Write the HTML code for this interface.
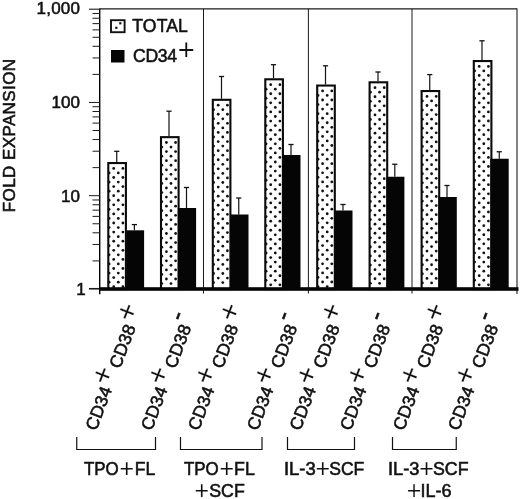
<!DOCTYPE html>
<html><head><meta charset="utf-8"><title>Fold expansion</title>
<style>html,body{margin:0;padding:0;background:#fff}svg{display:block}text{font-family:"Liberation Sans",Arial,Helvetica,sans-serif;fill:#111}.b{stroke:#111;stroke-width:.55px}.m{stroke:#111;stroke-width:.55px}.p{stroke:#fff;stroke-width:.15px;paint-order:fill stroke}</style></head><body>
<svg width="520" height="499" viewBox="0 0 520 499">
<rect width="520" height="499" fill="#fff"/>
<g stroke="#1a1a1a" fill="none">
<line x1="100" y1="8.9" x2="517" y2="8.9" stroke-width="1.1"/>
<line x1="517" y1="8.5" x2="517" y2="294" stroke-width="1.1"/>
<line x1="203.5" y1="9" x2="203.5" y2="293.5" stroke-width="1"/>
<line x1="308.4" y1="9" x2="308.4" y2="293.5" stroke-width="1"/>
<line x1="412" y1="9" x2="412" y2="293.5" stroke-width="1"/>
<line x1="99.7" y1="8.4" x2="99.7" y2="294.2" stroke="#000" stroke-width="1.4"/>
<line x1="89" y1="288.95" x2="100" y2="288.95" stroke-width="1"/>
<line x1="92.5" y1="260.88" x2="100" y2="260.88" stroke-width="1"/>
<line x1="92.5" y1="244.46" x2="100" y2="244.46" stroke-width="1"/>
<line x1="92.5" y1="232.81" x2="100" y2="232.81" stroke-width="1"/>
<line x1="92.5" y1="223.77" x2="100" y2="223.77" stroke-width="1"/>
<line x1="92.5" y1="216.39" x2="100" y2="216.39" stroke-width="1"/>
<line x1="92.5" y1="210.14" x2="100" y2="210.14" stroke-width="1"/>
<line x1="92.5" y1="204.74" x2="100" y2="204.74" stroke-width="1"/>
<line x1="92.5" y1="199.97" x2="100" y2="199.97" stroke-width="1"/>
<line x1="89" y1="195.70" x2="100" y2="195.70" stroke-width="1"/>
<line x1="92.5" y1="167.63" x2="100" y2="167.63" stroke-width="1"/>
<line x1="92.5" y1="151.21" x2="100" y2="151.21" stroke-width="1"/>
<line x1="92.5" y1="139.56" x2="100" y2="139.56" stroke-width="1"/>
<line x1="92.5" y1="130.52" x2="100" y2="130.52" stroke-width="1"/>
<line x1="92.5" y1="123.14" x2="100" y2="123.14" stroke-width="1"/>
<line x1="92.5" y1="116.89" x2="100" y2="116.89" stroke-width="1"/>
<line x1="92.5" y1="111.49" x2="100" y2="111.49" stroke-width="1"/>
<line x1="92.5" y1="106.72" x2="100" y2="106.72" stroke-width="1"/>
<line x1="89" y1="102.45" x2="100" y2="102.45" stroke-width="1"/>
<line x1="92.5" y1="74.38" x2="100" y2="74.38" stroke-width="1"/>
<line x1="92.5" y1="57.96" x2="100" y2="57.96" stroke-width="1"/>
<line x1="92.5" y1="46.31" x2="100" y2="46.31" stroke-width="1"/>
<line x1="92.5" y1="37.27" x2="100" y2="37.27" stroke-width="1"/>
<line x1="92.5" y1="29.89" x2="100" y2="29.89" stroke-width="1"/>
<line x1="92.5" y1="23.64" x2="100" y2="23.64" stroke-width="1"/>
<line x1="92.5" y1="18.24" x2="100" y2="18.24" stroke-width="1"/>
<line x1="92.5" y1="13.47" x2="100" y2="13.47" stroke-width="1"/>
<line x1="89" y1="9.20" x2="100" y2="9.20" stroke-width="1.1"/>
<line x1="89" y1="288.6" x2="100" y2="288.6" stroke-width="1.3"/>
</g>
<g>
<rect x="108.30" y="163.05" width="17.60" height="126.00" fill="#fff" stroke="#0a0a0a" stroke-width="2.1"/>
<circle cx="113.70" cy="168.40" r="1.38" fill="#111"/>
<circle cx="122.90" cy="168.40" r="1.38" fill="#111"/>
<circle cx="109.10" cy="172.95" r="1.38" fill="#111"/>
<circle cx="118.30" cy="172.95" r="1.38" fill="#111"/>
<circle cx="113.70" cy="177.50" r="1.38" fill="#111"/>
<circle cx="122.90" cy="177.50" r="1.38" fill="#111"/>
<circle cx="109.10" cy="182.05" r="1.38" fill="#111"/>
<circle cx="118.30" cy="182.05" r="1.38" fill="#111"/>
<circle cx="113.70" cy="186.60" r="1.38" fill="#111"/>
<circle cx="122.90" cy="186.60" r="1.38" fill="#111"/>
<circle cx="109.10" cy="191.15" r="1.38" fill="#111"/>
<circle cx="118.30" cy="191.15" r="1.38" fill="#111"/>
<circle cx="113.70" cy="195.70" r="1.38" fill="#111"/>
<circle cx="122.90" cy="195.70" r="1.38" fill="#111"/>
<circle cx="109.10" cy="200.25" r="1.38" fill="#111"/>
<circle cx="118.30" cy="200.25" r="1.38" fill="#111"/>
<circle cx="113.70" cy="204.80" r="1.38" fill="#111"/>
<circle cx="122.90" cy="204.80" r="1.38" fill="#111"/>
<circle cx="109.10" cy="209.35" r="1.38" fill="#111"/>
<circle cx="118.30" cy="209.35" r="1.38" fill="#111"/>
<circle cx="113.70" cy="213.90" r="1.38" fill="#111"/>
<circle cx="122.90" cy="213.90" r="1.38" fill="#111"/>
<circle cx="109.10" cy="218.45" r="1.38" fill="#111"/>
<circle cx="118.30" cy="218.45" r="1.38" fill="#111"/>
<circle cx="113.70" cy="223.00" r="1.38" fill="#111"/>
<circle cx="122.90" cy="223.00" r="1.38" fill="#111"/>
<circle cx="109.10" cy="227.55" r="1.38" fill="#111"/>
<circle cx="118.30" cy="227.55" r="1.38" fill="#111"/>
<circle cx="113.70" cy="232.10" r="1.38" fill="#111"/>
<circle cx="122.90" cy="232.10" r="1.38" fill="#111"/>
<circle cx="109.10" cy="236.65" r="1.38" fill="#111"/>
<circle cx="118.30" cy="236.65" r="1.38" fill="#111"/>
<circle cx="113.70" cy="241.20" r="1.38" fill="#111"/>
<circle cx="122.90" cy="241.20" r="1.38" fill="#111"/>
<circle cx="109.10" cy="245.75" r="1.38" fill="#111"/>
<circle cx="118.30" cy="245.75" r="1.38" fill="#111"/>
<circle cx="113.70" cy="250.30" r="1.38" fill="#111"/>
<circle cx="122.90" cy="250.30" r="1.38" fill="#111"/>
<circle cx="109.10" cy="254.85" r="1.38" fill="#111"/>
<circle cx="118.30" cy="254.85" r="1.38" fill="#111"/>
<circle cx="113.70" cy="259.40" r="1.38" fill="#111"/>
<circle cx="122.90" cy="259.40" r="1.38" fill="#111"/>
<circle cx="109.10" cy="263.95" r="1.38" fill="#111"/>
<circle cx="118.30" cy="263.95" r="1.38" fill="#111"/>
<circle cx="113.70" cy="268.50" r="1.38" fill="#111"/>
<circle cx="122.90" cy="268.50" r="1.38" fill="#111"/>
<circle cx="109.10" cy="273.05" r="1.38" fill="#111"/>
<circle cx="118.30" cy="273.05" r="1.38" fill="#111"/>
<circle cx="113.70" cy="277.60" r="1.38" fill="#111"/>
<circle cx="122.90" cy="277.60" r="1.38" fill="#111"/>
<circle cx="109.10" cy="282.15" r="1.38" fill="#111"/>
<circle cx="118.30" cy="282.15" r="1.38" fill="#111"/>
<circle cx="113.70" cy="286.70" r="1.38" fill="#111"/>
<circle cx="122.90" cy="286.70" r="1.38" fill="#111"/>
</g>
<line x1="116.75" y1="151.3" x2="116.75" y2="162" stroke="#111" stroke-width="1.2"/>
<line x1="114.15" y1="151.3" x2="119.35" y2="151.3" stroke="#111" stroke-width="1.3"/>
<g>
<rect x="161.00" y="137.15" width="17.60" height="151.90" fill="#fff" stroke="#0a0a0a" stroke-width="2.1"/>
<circle cx="166.40" cy="142.50" r="1.38" fill="#111"/>
<circle cx="175.60" cy="142.50" r="1.38" fill="#111"/>
<circle cx="161.80" cy="147.05" r="1.38" fill="#111"/>
<circle cx="171.00" cy="147.05" r="1.38" fill="#111"/>
<circle cx="166.40" cy="151.60" r="1.38" fill="#111"/>
<circle cx="175.60" cy="151.60" r="1.38" fill="#111"/>
<circle cx="161.80" cy="156.15" r="1.38" fill="#111"/>
<circle cx="171.00" cy="156.15" r="1.38" fill="#111"/>
<circle cx="166.40" cy="160.70" r="1.38" fill="#111"/>
<circle cx="175.60" cy="160.70" r="1.38" fill="#111"/>
<circle cx="161.80" cy="165.25" r="1.38" fill="#111"/>
<circle cx="171.00" cy="165.25" r="1.38" fill="#111"/>
<circle cx="166.40" cy="169.80" r="1.38" fill="#111"/>
<circle cx="175.60" cy="169.80" r="1.38" fill="#111"/>
<circle cx="161.80" cy="174.35" r="1.38" fill="#111"/>
<circle cx="171.00" cy="174.35" r="1.38" fill="#111"/>
<circle cx="166.40" cy="178.90" r="1.38" fill="#111"/>
<circle cx="175.60" cy="178.90" r="1.38" fill="#111"/>
<circle cx="161.80" cy="183.45" r="1.38" fill="#111"/>
<circle cx="171.00" cy="183.45" r="1.38" fill="#111"/>
<circle cx="166.40" cy="188.00" r="1.38" fill="#111"/>
<circle cx="175.60" cy="188.00" r="1.38" fill="#111"/>
<circle cx="161.80" cy="192.55" r="1.38" fill="#111"/>
<circle cx="171.00" cy="192.55" r="1.38" fill="#111"/>
<circle cx="166.40" cy="197.10" r="1.38" fill="#111"/>
<circle cx="175.60" cy="197.10" r="1.38" fill="#111"/>
<circle cx="161.80" cy="201.65" r="1.38" fill="#111"/>
<circle cx="171.00" cy="201.65" r="1.38" fill="#111"/>
<circle cx="166.40" cy="206.20" r="1.38" fill="#111"/>
<circle cx="175.60" cy="206.20" r="1.38" fill="#111"/>
<circle cx="161.80" cy="210.75" r="1.38" fill="#111"/>
<circle cx="171.00" cy="210.75" r="1.38" fill="#111"/>
<circle cx="166.40" cy="215.30" r="1.38" fill="#111"/>
<circle cx="175.60" cy="215.30" r="1.38" fill="#111"/>
<circle cx="161.80" cy="219.85" r="1.38" fill="#111"/>
<circle cx="171.00" cy="219.85" r="1.38" fill="#111"/>
<circle cx="166.40" cy="224.40" r="1.38" fill="#111"/>
<circle cx="175.60" cy="224.40" r="1.38" fill="#111"/>
<circle cx="161.80" cy="228.95" r="1.38" fill="#111"/>
<circle cx="171.00" cy="228.95" r="1.38" fill="#111"/>
<circle cx="166.40" cy="233.50" r="1.38" fill="#111"/>
<circle cx="175.60" cy="233.50" r="1.38" fill="#111"/>
<circle cx="161.80" cy="238.05" r="1.38" fill="#111"/>
<circle cx="171.00" cy="238.05" r="1.38" fill="#111"/>
<circle cx="166.40" cy="242.60" r="1.38" fill="#111"/>
<circle cx="175.60" cy="242.60" r="1.38" fill="#111"/>
<circle cx="161.80" cy="247.15" r="1.38" fill="#111"/>
<circle cx="171.00" cy="247.15" r="1.38" fill="#111"/>
<circle cx="166.40" cy="251.70" r="1.38" fill="#111"/>
<circle cx="175.60" cy="251.70" r="1.38" fill="#111"/>
<circle cx="161.80" cy="256.25" r="1.38" fill="#111"/>
<circle cx="171.00" cy="256.25" r="1.38" fill="#111"/>
<circle cx="166.40" cy="260.80" r="1.38" fill="#111"/>
<circle cx="175.60" cy="260.80" r="1.38" fill="#111"/>
<circle cx="161.80" cy="265.35" r="1.38" fill="#111"/>
<circle cx="171.00" cy="265.35" r="1.38" fill="#111"/>
<circle cx="166.40" cy="269.90" r="1.38" fill="#111"/>
<circle cx="175.60" cy="269.90" r="1.38" fill="#111"/>
<circle cx="161.80" cy="274.45" r="1.38" fill="#111"/>
<circle cx="171.00" cy="274.45" r="1.38" fill="#111"/>
<circle cx="166.40" cy="279.00" r="1.38" fill="#111"/>
<circle cx="175.60" cy="279.00" r="1.38" fill="#111"/>
<circle cx="161.80" cy="283.55" r="1.38" fill="#111"/>
<circle cx="171.00" cy="283.55" r="1.38" fill="#111"/>
</g>
<line x1="169" y1="111.2" x2="169" y2="136.1" stroke="#111" stroke-width="1.2"/>
<line x1="166.4" y1="111.2" x2="171.6" y2="111.2" stroke="#111" stroke-width="1.3"/>
<g>
<rect x="212.80" y="99.80" width="17.60" height="189.25" fill="#fff" stroke="#0a0a0a" stroke-width="2.1"/>
<circle cx="218.20" cy="105.15" r="1.38" fill="#111"/>
<circle cx="227.40" cy="105.15" r="1.38" fill="#111"/>
<circle cx="213.60" cy="109.70" r="1.38" fill="#111"/>
<circle cx="222.80" cy="109.70" r="1.38" fill="#111"/>
<circle cx="218.20" cy="114.25" r="1.38" fill="#111"/>
<circle cx="227.40" cy="114.25" r="1.38" fill="#111"/>
<circle cx="213.60" cy="118.80" r="1.38" fill="#111"/>
<circle cx="222.80" cy="118.80" r="1.38" fill="#111"/>
<circle cx="218.20" cy="123.35" r="1.38" fill="#111"/>
<circle cx="227.40" cy="123.35" r="1.38" fill="#111"/>
<circle cx="213.60" cy="127.90" r="1.38" fill="#111"/>
<circle cx="222.80" cy="127.90" r="1.38" fill="#111"/>
<circle cx="218.20" cy="132.45" r="1.38" fill="#111"/>
<circle cx="227.40" cy="132.45" r="1.38" fill="#111"/>
<circle cx="213.60" cy="137.00" r="1.38" fill="#111"/>
<circle cx="222.80" cy="137.00" r="1.38" fill="#111"/>
<circle cx="218.20" cy="141.55" r="1.38" fill="#111"/>
<circle cx="227.40" cy="141.55" r="1.38" fill="#111"/>
<circle cx="213.60" cy="146.10" r="1.38" fill="#111"/>
<circle cx="222.80" cy="146.10" r="1.38" fill="#111"/>
<circle cx="218.20" cy="150.65" r="1.38" fill="#111"/>
<circle cx="227.40" cy="150.65" r="1.38" fill="#111"/>
<circle cx="213.60" cy="155.20" r="1.38" fill="#111"/>
<circle cx="222.80" cy="155.20" r="1.38" fill="#111"/>
<circle cx="218.20" cy="159.75" r="1.38" fill="#111"/>
<circle cx="227.40" cy="159.75" r="1.38" fill="#111"/>
<circle cx="213.60" cy="164.30" r="1.38" fill="#111"/>
<circle cx="222.80" cy="164.30" r="1.38" fill="#111"/>
<circle cx="218.20" cy="168.85" r="1.38" fill="#111"/>
<circle cx="227.40" cy="168.85" r="1.38" fill="#111"/>
<circle cx="213.60" cy="173.40" r="1.38" fill="#111"/>
<circle cx="222.80" cy="173.40" r="1.38" fill="#111"/>
<circle cx="218.20" cy="177.95" r="1.38" fill="#111"/>
<circle cx="227.40" cy="177.95" r="1.38" fill="#111"/>
<circle cx="213.60" cy="182.50" r="1.38" fill="#111"/>
<circle cx="222.80" cy="182.50" r="1.38" fill="#111"/>
<circle cx="218.20" cy="187.05" r="1.38" fill="#111"/>
<circle cx="227.40" cy="187.05" r="1.38" fill="#111"/>
<circle cx="213.60" cy="191.60" r="1.38" fill="#111"/>
<circle cx="222.80" cy="191.60" r="1.38" fill="#111"/>
<circle cx="218.20" cy="196.15" r="1.38" fill="#111"/>
<circle cx="227.40" cy="196.15" r="1.38" fill="#111"/>
<circle cx="213.60" cy="200.70" r="1.38" fill="#111"/>
<circle cx="222.80" cy="200.70" r="1.38" fill="#111"/>
<circle cx="218.20" cy="205.25" r="1.38" fill="#111"/>
<circle cx="227.40" cy="205.25" r="1.38" fill="#111"/>
<circle cx="213.60" cy="209.80" r="1.38" fill="#111"/>
<circle cx="222.80" cy="209.80" r="1.38" fill="#111"/>
<circle cx="218.20" cy="214.35" r="1.38" fill="#111"/>
<circle cx="227.40" cy="214.35" r="1.38" fill="#111"/>
<circle cx="213.60" cy="218.90" r="1.38" fill="#111"/>
<circle cx="222.80" cy="218.90" r="1.38" fill="#111"/>
<circle cx="218.20" cy="223.45" r="1.38" fill="#111"/>
<circle cx="227.40" cy="223.45" r="1.38" fill="#111"/>
<circle cx="213.60" cy="228.00" r="1.38" fill="#111"/>
<circle cx="222.80" cy="228.00" r="1.38" fill="#111"/>
<circle cx="218.20" cy="232.55" r="1.38" fill="#111"/>
<circle cx="227.40" cy="232.55" r="1.38" fill="#111"/>
<circle cx="213.60" cy="237.10" r="1.38" fill="#111"/>
<circle cx="222.80" cy="237.10" r="1.38" fill="#111"/>
<circle cx="218.20" cy="241.65" r="1.38" fill="#111"/>
<circle cx="227.40" cy="241.65" r="1.38" fill="#111"/>
<circle cx="213.60" cy="246.20" r="1.38" fill="#111"/>
<circle cx="222.80" cy="246.20" r="1.38" fill="#111"/>
<circle cx="218.20" cy="250.75" r="1.38" fill="#111"/>
<circle cx="227.40" cy="250.75" r="1.38" fill="#111"/>
<circle cx="213.60" cy="255.30" r="1.38" fill="#111"/>
<circle cx="222.80" cy="255.30" r="1.38" fill="#111"/>
<circle cx="218.20" cy="259.85" r="1.38" fill="#111"/>
<circle cx="227.40" cy="259.85" r="1.38" fill="#111"/>
<circle cx="213.60" cy="264.40" r="1.38" fill="#111"/>
<circle cx="222.80" cy="264.40" r="1.38" fill="#111"/>
<circle cx="218.20" cy="268.95" r="1.38" fill="#111"/>
<circle cx="227.40" cy="268.95" r="1.38" fill="#111"/>
<circle cx="213.60" cy="273.50" r="1.38" fill="#111"/>
<circle cx="222.80" cy="273.50" r="1.38" fill="#111"/>
<circle cx="218.20" cy="278.05" r="1.38" fill="#111"/>
<circle cx="227.40" cy="278.05" r="1.38" fill="#111"/>
<circle cx="213.60" cy="282.60" r="1.38" fill="#111"/>
<circle cx="222.80" cy="282.60" r="1.38" fill="#111"/>
</g>
<line x1="221.5" y1="76.5" x2="221.5" y2="98.75" stroke="#111" stroke-width="1.2"/>
<line x1="218.9" y1="76.5" x2="224.1" y2="76.5" stroke="#111" stroke-width="1.3"/>
<g>
<rect x="265.30" y="79.30" width="17.60" height="209.75" fill="#fff" stroke="#0a0a0a" stroke-width="2.1"/>
<circle cx="270.70" cy="84.65" r="1.38" fill="#111"/>
<circle cx="279.90" cy="84.65" r="1.38" fill="#111"/>
<circle cx="266.10" cy="89.20" r="1.38" fill="#111"/>
<circle cx="275.30" cy="89.20" r="1.38" fill="#111"/>
<circle cx="270.70" cy="93.75" r="1.38" fill="#111"/>
<circle cx="279.90" cy="93.75" r="1.38" fill="#111"/>
<circle cx="266.10" cy="98.30" r="1.38" fill="#111"/>
<circle cx="275.30" cy="98.30" r="1.38" fill="#111"/>
<circle cx="270.70" cy="102.85" r="1.38" fill="#111"/>
<circle cx="279.90" cy="102.85" r="1.38" fill="#111"/>
<circle cx="266.10" cy="107.40" r="1.38" fill="#111"/>
<circle cx="275.30" cy="107.40" r="1.38" fill="#111"/>
<circle cx="270.70" cy="111.95" r="1.38" fill="#111"/>
<circle cx="279.90" cy="111.95" r="1.38" fill="#111"/>
<circle cx="266.10" cy="116.50" r="1.38" fill="#111"/>
<circle cx="275.30" cy="116.50" r="1.38" fill="#111"/>
<circle cx="270.70" cy="121.05" r="1.38" fill="#111"/>
<circle cx="279.90" cy="121.05" r="1.38" fill="#111"/>
<circle cx="266.10" cy="125.60" r="1.38" fill="#111"/>
<circle cx="275.30" cy="125.60" r="1.38" fill="#111"/>
<circle cx="270.70" cy="130.15" r="1.38" fill="#111"/>
<circle cx="279.90" cy="130.15" r="1.38" fill="#111"/>
<circle cx="266.10" cy="134.70" r="1.38" fill="#111"/>
<circle cx="275.30" cy="134.70" r="1.38" fill="#111"/>
<circle cx="270.70" cy="139.25" r="1.38" fill="#111"/>
<circle cx="279.90" cy="139.25" r="1.38" fill="#111"/>
<circle cx="266.10" cy="143.80" r="1.38" fill="#111"/>
<circle cx="275.30" cy="143.80" r="1.38" fill="#111"/>
<circle cx="270.70" cy="148.35" r="1.38" fill="#111"/>
<circle cx="279.90" cy="148.35" r="1.38" fill="#111"/>
<circle cx="266.10" cy="152.90" r="1.38" fill="#111"/>
<circle cx="275.30" cy="152.90" r="1.38" fill="#111"/>
<circle cx="270.70" cy="157.45" r="1.38" fill="#111"/>
<circle cx="279.90" cy="157.45" r="1.38" fill="#111"/>
<circle cx="266.10" cy="162.00" r="1.38" fill="#111"/>
<circle cx="275.30" cy="162.00" r="1.38" fill="#111"/>
<circle cx="270.70" cy="166.55" r="1.38" fill="#111"/>
<circle cx="279.90" cy="166.55" r="1.38" fill="#111"/>
<circle cx="266.10" cy="171.10" r="1.38" fill="#111"/>
<circle cx="275.30" cy="171.10" r="1.38" fill="#111"/>
<circle cx="270.70" cy="175.65" r="1.38" fill="#111"/>
<circle cx="279.90" cy="175.65" r="1.38" fill="#111"/>
<circle cx="266.10" cy="180.20" r="1.38" fill="#111"/>
<circle cx="275.30" cy="180.20" r="1.38" fill="#111"/>
<circle cx="270.70" cy="184.75" r="1.38" fill="#111"/>
<circle cx="279.90" cy="184.75" r="1.38" fill="#111"/>
<circle cx="266.10" cy="189.30" r="1.38" fill="#111"/>
<circle cx="275.30" cy="189.30" r="1.38" fill="#111"/>
<circle cx="270.70" cy="193.85" r="1.38" fill="#111"/>
<circle cx="279.90" cy="193.85" r="1.38" fill="#111"/>
<circle cx="266.10" cy="198.40" r="1.38" fill="#111"/>
<circle cx="275.30" cy="198.40" r="1.38" fill="#111"/>
<circle cx="270.70" cy="202.95" r="1.38" fill="#111"/>
<circle cx="279.90" cy="202.95" r="1.38" fill="#111"/>
<circle cx="266.10" cy="207.50" r="1.38" fill="#111"/>
<circle cx="275.30" cy="207.50" r="1.38" fill="#111"/>
<circle cx="270.70" cy="212.05" r="1.38" fill="#111"/>
<circle cx="279.90" cy="212.05" r="1.38" fill="#111"/>
<circle cx="266.10" cy="216.60" r="1.38" fill="#111"/>
<circle cx="275.30" cy="216.60" r="1.38" fill="#111"/>
<circle cx="270.70" cy="221.15" r="1.38" fill="#111"/>
<circle cx="279.90" cy="221.15" r="1.38" fill="#111"/>
<circle cx="266.10" cy="225.70" r="1.38" fill="#111"/>
<circle cx="275.30" cy="225.70" r="1.38" fill="#111"/>
<circle cx="270.70" cy="230.25" r="1.38" fill="#111"/>
<circle cx="279.90" cy="230.25" r="1.38" fill="#111"/>
<circle cx="266.10" cy="234.80" r="1.38" fill="#111"/>
<circle cx="275.30" cy="234.80" r="1.38" fill="#111"/>
<circle cx="270.70" cy="239.35" r="1.38" fill="#111"/>
<circle cx="279.90" cy="239.35" r="1.38" fill="#111"/>
<circle cx="266.10" cy="243.90" r="1.38" fill="#111"/>
<circle cx="275.30" cy="243.90" r="1.38" fill="#111"/>
<circle cx="270.70" cy="248.45" r="1.38" fill="#111"/>
<circle cx="279.90" cy="248.45" r="1.38" fill="#111"/>
<circle cx="266.10" cy="253.00" r="1.38" fill="#111"/>
<circle cx="275.30" cy="253.00" r="1.38" fill="#111"/>
<circle cx="270.70" cy="257.55" r="1.38" fill="#111"/>
<circle cx="279.90" cy="257.55" r="1.38" fill="#111"/>
<circle cx="266.10" cy="262.10" r="1.38" fill="#111"/>
<circle cx="275.30" cy="262.10" r="1.38" fill="#111"/>
<circle cx="270.70" cy="266.65" r="1.38" fill="#111"/>
<circle cx="279.90" cy="266.65" r="1.38" fill="#111"/>
<circle cx="266.10" cy="271.20" r="1.38" fill="#111"/>
<circle cx="275.30" cy="271.20" r="1.38" fill="#111"/>
<circle cx="270.70" cy="275.75" r="1.38" fill="#111"/>
<circle cx="279.90" cy="275.75" r="1.38" fill="#111"/>
<circle cx="266.10" cy="280.30" r="1.38" fill="#111"/>
<circle cx="275.30" cy="280.30" r="1.38" fill="#111"/>
<circle cx="270.70" cy="284.85" r="1.38" fill="#111"/>
<circle cx="279.90" cy="284.85" r="1.38" fill="#111"/>
</g>
<line x1="273.5" y1="64.7" x2="273.5" y2="78.25" stroke="#111" stroke-width="1.2"/>
<line x1="270.9" y1="64.7" x2="276.1" y2="64.7" stroke="#111" stroke-width="1.3"/>
<g>
<rect x="317.20" y="85.55" width="17.60" height="203.50" fill="#fff" stroke="#0a0a0a" stroke-width="2.1"/>
<circle cx="322.60" cy="90.90" r="1.38" fill="#111"/>
<circle cx="331.80" cy="90.90" r="1.38" fill="#111"/>
<circle cx="318.00" cy="95.45" r="1.38" fill="#111"/>
<circle cx="327.20" cy="95.45" r="1.38" fill="#111"/>
<circle cx="322.60" cy="100.00" r="1.38" fill="#111"/>
<circle cx="331.80" cy="100.00" r="1.38" fill="#111"/>
<circle cx="318.00" cy="104.55" r="1.38" fill="#111"/>
<circle cx="327.20" cy="104.55" r="1.38" fill="#111"/>
<circle cx="322.60" cy="109.10" r="1.38" fill="#111"/>
<circle cx="331.80" cy="109.10" r="1.38" fill="#111"/>
<circle cx="318.00" cy="113.65" r="1.38" fill="#111"/>
<circle cx="327.20" cy="113.65" r="1.38" fill="#111"/>
<circle cx="322.60" cy="118.20" r="1.38" fill="#111"/>
<circle cx="331.80" cy="118.20" r="1.38" fill="#111"/>
<circle cx="318.00" cy="122.75" r="1.38" fill="#111"/>
<circle cx="327.20" cy="122.75" r="1.38" fill="#111"/>
<circle cx="322.60" cy="127.30" r="1.38" fill="#111"/>
<circle cx="331.80" cy="127.30" r="1.38" fill="#111"/>
<circle cx="318.00" cy="131.85" r="1.38" fill="#111"/>
<circle cx="327.20" cy="131.85" r="1.38" fill="#111"/>
<circle cx="322.60" cy="136.40" r="1.38" fill="#111"/>
<circle cx="331.80" cy="136.40" r="1.38" fill="#111"/>
<circle cx="318.00" cy="140.95" r="1.38" fill="#111"/>
<circle cx="327.20" cy="140.95" r="1.38" fill="#111"/>
<circle cx="322.60" cy="145.50" r="1.38" fill="#111"/>
<circle cx="331.80" cy="145.50" r="1.38" fill="#111"/>
<circle cx="318.00" cy="150.05" r="1.38" fill="#111"/>
<circle cx="327.20" cy="150.05" r="1.38" fill="#111"/>
<circle cx="322.60" cy="154.60" r="1.38" fill="#111"/>
<circle cx="331.80" cy="154.60" r="1.38" fill="#111"/>
<circle cx="318.00" cy="159.15" r="1.38" fill="#111"/>
<circle cx="327.20" cy="159.15" r="1.38" fill="#111"/>
<circle cx="322.60" cy="163.70" r="1.38" fill="#111"/>
<circle cx="331.80" cy="163.70" r="1.38" fill="#111"/>
<circle cx="318.00" cy="168.25" r="1.38" fill="#111"/>
<circle cx="327.20" cy="168.25" r="1.38" fill="#111"/>
<circle cx="322.60" cy="172.80" r="1.38" fill="#111"/>
<circle cx="331.80" cy="172.80" r="1.38" fill="#111"/>
<circle cx="318.00" cy="177.35" r="1.38" fill="#111"/>
<circle cx="327.20" cy="177.35" r="1.38" fill="#111"/>
<circle cx="322.60" cy="181.90" r="1.38" fill="#111"/>
<circle cx="331.80" cy="181.90" r="1.38" fill="#111"/>
<circle cx="318.00" cy="186.45" r="1.38" fill="#111"/>
<circle cx="327.20" cy="186.45" r="1.38" fill="#111"/>
<circle cx="322.60" cy="191.00" r="1.38" fill="#111"/>
<circle cx="331.80" cy="191.00" r="1.38" fill="#111"/>
<circle cx="318.00" cy="195.55" r="1.38" fill="#111"/>
<circle cx="327.20" cy="195.55" r="1.38" fill="#111"/>
<circle cx="322.60" cy="200.10" r="1.38" fill="#111"/>
<circle cx="331.80" cy="200.10" r="1.38" fill="#111"/>
<circle cx="318.00" cy="204.65" r="1.38" fill="#111"/>
<circle cx="327.20" cy="204.65" r="1.38" fill="#111"/>
<circle cx="322.60" cy="209.20" r="1.38" fill="#111"/>
<circle cx="331.80" cy="209.20" r="1.38" fill="#111"/>
<circle cx="318.00" cy="213.75" r="1.38" fill="#111"/>
<circle cx="327.20" cy="213.75" r="1.38" fill="#111"/>
<circle cx="322.60" cy="218.30" r="1.38" fill="#111"/>
<circle cx="331.80" cy="218.30" r="1.38" fill="#111"/>
<circle cx="318.00" cy="222.85" r="1.38" fill="#111"/>
<circle cx="327.20" cy="222.85" r="1.38" fill="#111"/>
<circle cx="322.60" cy="227.40" r="1.38" fill="#111"/>
<circle cx="331.80" cy="227.40" r="1.38" fill="#111"/>
<circle cx="318.00" cy="231.95" r="1.38" fill="#111"/>
<circle cx="327.20" cy="231.95" r="1.38" fill="#111"/>
<circle cx="322.60" cy="236.50" r="1.38" fill="#111"/>
<circle cx="331.80" cy="236.50" r="1.38" fill="#111"/>
<circle cx="318.00" cy="241.05" r="1.38" fill="#111"/>
<circle cx="327.20" cy="241.05" r="1.38" fill="#111"/>
<circle cx="322.60" cy="245.60" r="1.38" fill="#111"/>
<circle cx="331.80" cy="245.60" r="1.38" fill="#111"/>
<circle cx="318.00" cy="250.15" r="1.38" fill="#111"/>
<circle cx="327.20" cy="250.15" r="1.38" fill="#111"/>
<circle cx="322.60" cy="254.70" r="1.38" fill="#111"/>
<circle cx="331.80" cy="254.70" r="1.38" fill="#111"/>
<circle cx="318.00" cy="259.25" r="1.38" fill="#111"/>
<circle cx="327.20" cy="259.25" r="1.38" fill="#111"/>
<circle cx="322.60" cy="263.80" r="1.38" fill="#111"/>
<circle cx="331.80" cy="263.80" r="1.38" fill="#111"/>
<circle cx="318.00" cy="268.35" r="1.38" fill="#111"/>
<circle cx="327.20" cy="268.35" r="1.38" fill="#111"/>
<circle cx="322.60" cy="272.90" r="1.38" fill="#111"/>
<circle cx="331.80" cy="272.90" r="1.38" fill="#111"/>
<circle cx="318.00" cy="277.45" r="1.38" fill="#111"/>
<circle cx="327.20" cy="277.45" r="1.38" fill="#111"/>
<circle cx="322.60" cy="282.00" r="1.38" fill="#111"/>
<circle cx="331.80" cy="282.00" r="1.38" fill="#111"/>
<circle cx="318.00" cy="286.55" r="1.38" fill="#111"/>
<circle cx="327.20" cy="286.55" r="1.38" fill="#111"/>
</g>
<line x1="325.5" y1="65.8" x2="325.5" y2="84.5" stroke="#111" stroke-width="1.2"/>
<line x1="322.9" y1="65.8" x2="328.1" y2="65.8" stroke="#111" stroke-width="1.3"/>
<g>
<rect x="369.60" y="82.30" width="17.60" height="206.75" fill="#fff" stroke="#0a0a0a" stroke-width="2.1"/>
<circle cx="375.00" cy="87.65" r="1.38" fill="#111"/>
<circle cx="384.20" cy="87.65" r="1.38" fill="#111"/>
<circle cx="370.40" cy="92.20" r="1.38" fill="#111"/>
<circle cx="379.60" cy="92.20" r="1.38" fill="#111"/>
<circle cx="375.00" cy="96.75" r="1.38" fill="#111"/>
<circle cx="384.20" cy="96.75" r="1.38" fill="#111"/>
<circle cx="370.40" cy="101.30" r="1.38" fill="#111"/>
<circle cx="379.60" cy="101.30" r="1.38" fill="#111"/>
<circle cx="375.00" cy="105.85" r="1.38" fill="#111"/>
<circle cx="384.20" cy="105.85" r="1.38" fill="#111"/>
<circle cx="370.40" cy="110.40" r="1.38" fill="#111"/>
<circle cx="379.60" cy="110.40" r="1.38" fill="#111"/>
<circle cx="375.00" cy="114.95" r="1.38" fill="#111"/>
<circle cx="384.20" cy="114.95" r="1.38" fill="#111"/>
<circle cx="370.40" cy="119.50" r="1.38" fill="#111"/>
<circle cx="379.60" cy="119.50" r="1.38" fill="#111"/>
<circle cx="375.00" cy="124.05" r="1.38" fill="#111"/>
<circle cx="384.20" cy="124.05" r="1.38" fill="#111"/>
<circle cx="370.40" cy="128.60" r="1.38" fill="#111"/>
<circle cx="379.60" cy="128.60" r="1.38" fill="#111"/>
<circle cx="375.00" cy="133.15" r="1.38" fill="#111"/>
<circle cx="384.20" cy="133.15" r="1.38" fill="#111"/>
<circle cx="370.40" cy="137.70" r="1.38" fill="#111"/>
<circle cx="379.60" cy="137.70" r="1.38" fill="#111"/>
<circle cx="375.00" cy="142.25" r="1.38" fill="#111"/>
<circle cx="384.20" cy="142.25" r="1.38" fill="#111"/>
<circle cx="370.40" cy="146.80" r="1.38" fill="#111"/>
<circle cx="379.60" cy="146.80" r="1.38" fill="#111"/>
<circle cx="375.00" cy="151.35" r="1.38" fill="#111"/>
<circle cx="384.20" cy="151.35" r="1.38" fill="#111"/>
<circle cx="370.40" cy="155.90" r="1.38" fill="#111"/>
<circle cx="379.60" cy="155.90" r="1.38" fill="#111"/>
<circle cx="375.00" cy="160.45" r="1.38" fill="#111"/>
<circle cx="384.20" cy="160.45" r="1.38" fill="#111"/>
<circle cx="370.40" cy="165.00" r="1.38" fill="#111"/>
<circle cx="379.60" cy="165.00" r="1.38" fill="#111"/>
<circle cx="375.00" cy="169.55" r="1.38" fill="#111"/>
<circle cx="384.20" cy="169.55" r="1.38" fill="#111"/>
<circle cx="370.40" cy="174.10" r="1.38" fill="#111"/>
<circle cx="379.60" cy="174.10" r="1.38" fill="#111"/>
<circle cx="375.00" cy="178.65" r="1.38" fill="#111"/>
<circle cx="384.20" cy="178.65" r="1.38" fill="#111"/>
<circle cx="370.40" cy="183.20" r="1.38" fill="#111"/>
<circle cx="379.60" cy="183.20" r="1.38" fill="#111"/>
<circle cx="375.00" cy="187.75" r="1.38" fill="#111"/>
<circle cx="384.20" cy="187.75" r="1.38" fill="#111"/>
<circle cx="370.40" cy="192.30" r="1.38" fill="#111"/>
<circle cx="379.60" cy="192.30" r="1.38" fill="#111"/>
<circle cx="375.00" cy="196.85" r="1.38" fill="#111"/>
<circle cx="384.20" cy="196.85" r="1.38" fill="#111"/>
<circle cx="370.40" cy="201.40" r="1.38" fill="#111"/>
<circle cx="379.60" cy="201.40" r="1.38" fill="#111"/>
<circle cx="375.00" cy="205.95" r="1.38" fill="#111"/>
<circle cx="384.20" cy="205.95" r="1.38" fill="#111"/>
<circle cx="370.40" cy="210.50" r="1.38" fill="#111"/>
<circle cx="379.60" cy="210.50" r="1.38" fill="#111"/>
<circle cx="375.00" cy="215.05" r="1.38" fill="#111"/>
<circle cx="384.20" cy="215.05" r="1.38" fill="#111"/>
<circle cx="370.40" cy="219.60" r="1.38" fill="#111"/>
<circle cx="379.60" cy="219.60" r="1.38" fill="#111"/>
<circle cx="375.00" cy="224.15" r="1.38" fill="#111"/>
<circle cx="384.20" cy="224.15" r="1.38" fill="#111"/>
<circle cx="370.40" cy="228.70" r="1.38" fill="#111"/>
<circle cx="379.60" cy="228.70" r="1.38" fill="#111"/>
<circle cx="375.00" cy="233.25" r="1.38" fill="#111"/>
<circle cx="384.20" cy="233.25" r="1.38" fill="#111"/>
<circle cx="370.40" cy="237.80" r="1.38" fill="#111"/>
<circle cx="379.60" cy="237.80" r="1.38" fill="#111"/>
<circle cx="375.00" cy="242.35" r="1.38" fill="#111"/>
<circle cx="384.20" cy="242.35" r="1.38" fill="#111"/>
<circle cx="370.40" cy="246.90" r="1.38" fill="#111"/>
<circle cx="379.60" cy="246.90" r="1.38" fill="#111"/>
<circle cx="375.00" cy="251.45" r="1.38" fill="#111"/>
<circle cx="384.20" cy="251.45" r="1.38" fill="#111"/>
<circle cx="370.40" cy="256.00" r="1.38" fill="#111"/>
<circle cx="379.60" cy="256.00" r="1.38" fill="#111"/>
<circle cx="375.00" cy="260.55" r="1.38" fill="#111"/>
<circle cx="384.20" cy="260.55" r="1.38" fill="#111"/>
<circle cx="370.40" cy="265.10" r="1.38" fill="#111"/>
<circle cx="379.60" cy="265.10" r="1.38" fill="#111"/>
<circle cx="375.00" cy="269.65" r="1.38" fill="#111"/>
<circle cx="384.20" cy="269.65" r="1.38" fill="#111"/>
<circle cx="370.40" cy="274.20" r="1.38" fill="#111"/>
<circle cx="379.60" cy="274.20" r="1.38" fill="#111"/>
<circle cx="375.00" cy="278.75" r="1.38" fill="#111"/>
<circle cx="384.20" cy="278.75" r="1.38" fill="#111"/>
<circle cx="370.40" cy="283.30" r="1.38" fill="#111"/>
<circle cx="379.60" cy="283.30" r="1.38" fill="#111"/>
</g>
<line x1="378" y1="72" x2="378" y2="81.25" stroke="#111" stroke-width="1.2"/>
<line x1="375.4" y1="72" x2="380.6" y2="72" stroke="#111" stroke-width="1.3"/>
<g>
<rect x="421.60" y="91.05" width="17.60" height="198.00" fill="#fff" stroke="#0a0a0a" stroke-width="2.1"/>
<circle cx="427.00" cy="96.40" r="1.38" fill="#111"/>
<circle cx="436.20" cy="96.40" r="1.38" fill="#111"/>
<circle cx="422.40" cy="100.95" r="1.38" fill="#111"/>
<circle cx="431.60" cy="100.95" r="1.38" fill="#111"/>
<circle cx="427.00" cy="105.50" r="1.38" fill="#111"/>
<circle cx="436.20" cy="105.50" r="1.38" fill="#111"/>
<circle cx="422.40" cy="110.05" r="1.38" fill="#111"/>
<circle cx="431.60" cy="110.05" r="1.38" fill="#111"/>
<circle cx="427.00" cy="114.60" r="1.38" fill="#111"/>
<circle cx="436.20" cy="114.60" r="1.38" fill="#111"/>
<circle cx="422.40" cy="119.15" r="1.38" fill="#111"/>
<circle cx="431.60" cy="119.15" r="1.38" fill="#111"/>
<circle cx="427.00" cy="123.70" r="1.38" fill="#111"/>
<circle cx="436.20" cy="123.70" r="1.38" fill="#111"/>
<circle cx="422.40" cy="128.25" r="1.38" fill="#111"/>
<circle cx="431.60" cy="128.25" r="1.38" fill="#111"/>
<circle cx="427.00" cy="132.80" r="1.38" fill="#111"/>
<circle cx="436.20" cy="132.80" r="1.38" fill="#111"/>
<circle cx="422.40" cy="137.35" r="1.38" fill="#111"/>
<circle cx="431.60" cy="137.35" r="1.38" fill="#111"/>
<circle cx="427.00" cy="141.90" r="1.38" fill="#111"/>
<circle cx="436.20" cy="141.90" r="1.38" fill="#111"/>
<circle cx="422.40" cy="146.45" r="1.38" fill="#111"/>
<circle cx="431.60" cy="146.45" r="1.38" fill="#111"/>
<circle cx="427.00" cy="151.00" r="1.38" fill="#111"/>
<circle cx="436.20" cy="151.00" r="1.38" fill="#111"/>
<circle cx="422.40" cy="155.55" r="1.38" fill="#111"/>
<circle cx="431.60" cy="155.55" r="1.38" fill="#111"/>
<circle cx="427.00" cy="160.10" r="1.38" fill="#111"/>
<circle cx="436.20" cy="160.10" r="1.38" fill="#111"/>
<circle cx="422.40" cy="164.65" r="1.38" fill="#111"/>
<circle cx="431.60" cy="164.65" r="1.38" fill="#111"/>
<circle cx="427.00" cy="169.20" r="1.38" fill="#111"/>
<circle cx="436.20" cy="169.20" r="1.38" fill="#111"/>
<circle cx="422.40" cy="173.75" r="1.38" fill="#111"/>
<circle cx="431.60" cy="173.75" r="1.38" fill="#111"/>
<circle cx="427.00" cy="178.30" r="1.38" fill="#111"/>
<circle cx="436.20" cy="178.30" r="1.38" fill="#111"/>
<circle cx="422.40" cy="182.85" r="1.38" fill="#111"/>
<circle cx="431.60" cy="182.85" r="1.38" fill="#111"/>
<circle cx="427.00" cy="187.40" r="1.38" fill="#111"/>
<circle cx="436.20" cy="187.40" r="1.38" fill="#111"/>
<circle cx="422.40" cy="191.95" r="1.38" fill="#111"/>
<circle cx="431.60" cy="191.95" r="1.38" fill="#111"/>
<circle cx="427.00" cy="196.50" r="1.38" fill="#111"/>
<circle cx="436.20" cy="196.50" r="1.38" fill="#111"/>
<circle cx="422.40" cy="201.05" r="1.38" fill="#111"/>
<circle cx="431.60" cy="201.05" r="1.38" fill="#111"/>
<circle cx="427.00" cy="205.60" r="1.38" fill="#111"/>
<circle cx="436.20" cy="205.60" r="1.38" fill="#111"/>
<circle cx="422.40" cy="210.15" r="1.38" fill="#111"/>
<circle cx="431.60" cy="210.15" r="1.38" fill="#111"/>
<circle cx="427.00" cy="214.70" r="1.38" fill="#111"/>
<circle cx="436.20" cy="214.70" r="1.38" fill="#111"/>
<circle cx="422.40" cy="219.25" r="1.38" fill="#111"/>
<circle cx="431.60" cy="219.25" r="1.38" fill="#111"/>
<circle cx="427.00" cy="223.80" r="1.38" fill="#111"/>
<circle cx="436.20" cy="223.80" r="1.38" fill="#111"/>
<circle cx="422.40" cy="228.35" r="1.38" fill="#111"/>
<circle cx="431.60" cy="228.35" r="1.38" fill="#111"/>
<circle cx="427.00" cy="232.90" r="1.38" fill="#111"/>
<circle cx="436.20" cy="232.90" r="1.38" fill="#111"/>
<circle cx="422.40" cy="237.45" r="1.38" fill="#111"/>
<circle cx="431.60" cy="237.45" r="1.38" fill="#111"/>
<circle cx="427.00" cy="242.00" r="1.38" fill="#111"/>
<circle cx="436.20" cy="242.00" r="1.38" fill="#111"/>
<circle cx="422.40" cy="246.55" r="1.38" fill="#111"/>
<circle cx="431.60" cy="246.55" r="1.38" fill="#111"/>
<circle cx="427.00" cy="251.10" r="1.38" fill="#111"/>
<circle cx="436.20" cy="251.10" r="1.38" fill="#111"/>
<circle cx="422.40" cy="255.65" r="1.38" fill="#111"/>
<circle cx="431.60" cy="255.65" r="1.38" fill="#111"/>
<circle cx="427.00" cy="260.20" r="1.38" fill="#111"/>
<circle cx="436.20" cy="260.20" r="1.38" fill="#111"/>
<circle cx="422.40" cy="264.75" r="1.38" fill="#111"/>
<circle cx="431.60" cy="264.75" r="1.38" fill="#111"/>
<circle cx="427.00" cy="269.30" r="1.38" fill="#111"/>
<circle cx="436.20" cy="269.30" r="1.38" fill="#111"/>
<circle cx="422.40" cy="273.85" r="1.38" fill="#111"/>
<circle cx="431.60" cy="273.85" r="1.38" fill="#111"/>
<circle cx="427.00" cy="278.40" r="1.38" fill="#111"/>
<circle cx="436.20" cy="278.40" r="1.38" fill="#111"/>
<circle cx="422.40" cy="282.95" r="1.38" fill="#111"/>
<circle cx="431.60" cy="282.95" r="1.38" fill="#111"/>
</g>
<line x1="429.75" y1="74.6" x2="429.75" y2="90" stroke="#111" stroke-width="1.2"/>
<line x1="427.15" y1="74.6" x2="432.35" y2="74.6" stroke="#111" stroke-width="1.3"/>
<g>
<rect x="473.80" y="61.05" width="17.60" height="228.00" fill="#fff" stroke="#0a0a0a" stroke-width="2.1"/>
<circle cx="479.20" cy="66.40" r="1.38" fill="#111"/>
<circle cx="488.40" cy="66.40" r="1.38" fill="#111"/>
<circle cx="474.60" cy="70.95" r="1.38" fill="#111"/>
<circle cx="483.80" cy="70.95" r="1.38" fill="#111"/>
<circle cx="479.20" cy="75.50" r="1.38" fill="#111"/>
<circle cx="488.40" cy="75.50" r="1.38" fill="#111"/>
<circle cx="474.60" cy="80.05" r="1.38" fill="#111"/>
<circle cx="483.80" cy="80.05" r="1.38" fill="#111"/>
<circle cx="479.20" cy="84.60" r="1.38" fill="#111"/>
<circle cx="488.40" cy="84.60" r="1.38" fill="#111"/>
<circle cx="474.60" cy="89.15" r="1.38" fill="#111"/>
<circle cx="483.80" cy="89.15" r="1.38" fill="#111"/>
<circle cx="479.20" cy="93.70" r="1.38" fill="#111"/>
<circle cx="488.40" cy="93.70" r="1.38" fill="#111"/>
<circle cx="474.60" cy="98.25" r="1.38" fill="#111"/>
<circle cx="483.80" cy="98.25" r="1.38" fill="#111"/>
<circle cx="479.20" cy="102.80" r="1.38" fill="#111"/>
<circle cx="488.40" cy="102.80" r="1.38" fill="#111"/>
<circle cx="474.60" cy="107.35" r="1.38" fill="#111"/>
<circle cx="483.80" cy="107.35" r="1.38" fill="#111"/>
<circle cx="479.20" cy="111.90" r="1.38" fill="#111"/>
<circle cx="488.40" cy="111.90" r="1.38" fill="#111"/>
<circle cx="474.60" cy="116.45" r="1.38" fill="#111"/>
<circle cx="483.80" cy="116.45" r="1.38" fill="#111"/>
<circle cx="479.20" cy="121.00" r="1.38" fill="#111"/>
<circle cx="488.40" cy="121.00" r="1.38" fill="#111"/>
<circle cx="474.60" cy="125.55" r="1.38" fill="#111"/>
<circle cx="483.80" cy="125.55" r="1.38" fill="#111"/>
<circle cx="479.20" cy="130.10" r="1.38" fill="#111"/>
<circle cx="488.40" cy="130.10" r="1.38" fill="#111"/>
<circle cx="474.60" cy="134.65" r="1.38" fill="#111"/>
<circle cx="483.80" cy="134.65" r="1.38" fill="#111"/>
<circle cx="479.20" cy="139.20" r="1.38" fill="#111"/>
<circle cx="488.40" cy="139.20" r="1.38" fill="#111"/>
<circle cx="474.60" cy="143.75" r="1.38" fill="#111"/>
<circle cx="483.80" cy="143.75" r="1.38" fill="#111"/>
<circle cx="479.20" cy="148.30" r="1.38" fill="#111"/>
<circle cx="488.40" cy="148.30" r="1.38" fill="#111"/>
<circle cx="474.60" cy="152.85" r="1.38" fill="#111"/>
<circle cx="483.80" cy="152.85" r="1.38" fill="#111"/>
<circle cx="479.20" cy="157.40" r="1.38" fill="#111"/>
<circle cx="488.40" cy="157.40" r="1.38" fill="#111"/>
<circle cx="474.60" cy="161.95" r="1.38" fill="#111"/>
<circle cx="483.80" cy="161.95" r="1.38" fill="#111"/>
<circle cx="479.20" cy="166.50" r="1.38" fill="#111"/>
<circle cx="488.40" cy="166.50" r="1.38" fill="#111"/>
<circle cx="474.60" cy="171.05" r="1.38" fill="#111"/>
<circle cx="483.80" cy="171.05" r="1.38" fill="#111"/>
<circle cx="479.20" cy="175.60" r="1.38" fill="#111"/>
<circle cx="488.40" cy="175.60" r="1.38" fill="#111"/>
<circle cx="474.60" cy="180.15" r="1.38" fill="#111"/>
<circle cx="483.80" cy="180.15" r="1.38" fill="#111"/>
<circle cx="479.20" cy="184.70" r="1.38" fill="#111"/>
<circle cx="488.40" cy="184.70" r="1.38" fill="#111"/>
<circle cx="474.60" cy="189.25" r="1.38" fill="#111"/>
<circle cx="483.80" cy="189.25" r="1.38" fill="#111"/>
<circle cx="479.20" cy="193.80" r="1.38" fill="#111"/>
<circle cx="488.40" cy="193.80" r="1.38" fill="#111"/>
<circle cx="474.60" cy="198.35" r="1.38" fill="#111"/>
<circle cx="483.80" cy="198.35" r="1.38" fill="#111"/>
<circle cx="479.20" cy="202.90" r="1.38" fill="#111"/>
<circle cx="488.40" cy="202.90" r="1.38" fill="#111"/>
<circle cx="474.60" cy="207.45" r="1.38" fill="#111"/>
<circle cx="483.80" cy="207.45" r="1.38" fill="#111"/>
<circle cx="479.20" cy="212.00" r="1.38" fill="#111"/>
<circle cx="488.40" cy="212.00" r="1.38" fill="#111"/>
<circle cx="474.60" cy="216.55" r="1.38" fill="#111"/>
<circle cx="483.80" cy="216.55" r="1.38" fill="#111"/>
<circle cx="479.20" cy="221.10" r="1.38" fill="#111"/>
<circle cx="488.40" cy="221.10" r="1.38" fill="#111"/>
<circle cx="474.60" cy="225.65" r="1.38" fill="#111"/>
<circle cx="483.80" cy="225.65" r="1.38" fill="#111"/>
<circle cx="479.20" cy="230.20" r="1.38" fill="#111"/>
<circle cx="488.40" cy="230.20" r="1.38" fill="#111"/>
<circle cx="474.60" cy="234.75" r="1.38" fill="#111"/>
<circle cx="483.80" cy="234.75" r="1.38" fill="#111"/>
<circle cx="479.20" cy="239.30" r="1.38" fill="#111"/>
<circle cx="488.40" cy="239.30" r="1.38" fill="#111"/>
<circle cx="474.60" cy="243.85" r="1.38" fill="#111"/>
<circle cx="483.80" cy="243.85" r="1.38" fill="#111"/>
<circle cx="479.20" cy="248.40" r="1.38" fill="#111"/>
<circle cx="488.40" cy="248.40" r="1.38" fill="#111"/>
<circle cx="474.60" cy="252.95" r="1.38" fill="#111"/>
<circle cx="483.80" cy="252.95" r="1.38" fill="#111"/>
<circle cx="479.20" cy="257.50" r="1.38" fill="#111"/>
<circle cx="488.40" cy="257.50" r="1.38" fill="#111"/>
<circle cx="474.60" cy="262.05" r="1.38" fill="#111"/>
<circle cx="483.80" cy="262.05" r="1.38" fill="#111"/>
<circle cx="479.20" cy="266.60" r="1.38" fill="#111"/>
<circle cx="488.40" cy="266.60" r="1.38" fill="#111"/>
<circle cx="474.60" cy="271.15" r="1.38" fill="#111"/>
<circle cx="483.80" cy="271.15" r="1.38" fill="#111"/>
<circle cx="479.20" cy="275.70" r="1.38" fill="#111"/>
<circle cx="488.40" cy="275.70" r="1.38" fill="#111"/>
<circle cx="474.60" cy="280.25" r="1.38" fill="#111"/>
<circle cx="483.80" cy="280.25" r="1.38" fill="#111"/>
<circle cx="479.20" cy="284.80" r="1.38" fill="#111"/>
<circle cx="488.40" cy="284.80" r="1.38" fill="#111"/>
</g>
<line x1="482" y1="40.8" x2="482" y2="60" stroke="#111" stroke-width="1.2"/>
<line x1="479.4" y1="40.8" x2="484.6" y2="40.8" stroke="#111" stroke-width="1.3"/>
<rect x="126.60" y="230.3" width="17.50" height="58.69999999999999" fill="#050505"/>
<line x1="134.4" y1="224.6" x2="134.4" y2="230.3" stroke="#111" stroke-width="1.2"/>
<line x1="131.8" y1="224.6" x2="137.0" y2="224.6" stroke="#111" stroke-width="1.3"/>
<rect x="177.90" y="208" width="18.20" height="81" fill="#050505"/>
<line x1="186.5" y1="187.5" x2="186.5" y2="208" stroke="#111" stroke-width="1.2"/>
<line x1="183.9" y1="187.5" x2="189.1" y2="187.5" stroke="#111" stroke-width="1.3"/>
<rect x="230.10" y="214.5" width="18.40" height="74.5" fill="#050505"/>
<line x1="238.75" y1="198" x2="238.75" y2="214.5" stroke="#111" stroke-width="1.2"/>
<line x1="236.15" y1="198" x2="241.35" y2="198" stroke="#111" stroke-width="1.3"/>
<rect x="282.60" y="155" width="17.90" height="134" fill="#050505"/>
<line x1="291" y1="144.5" x2="291" y2="155" stroke="#111" stroke-width="1.2"/>
<line x1="288.4" y1="144.5" x2="293.6" y2="144.5" stroke="#111" stroke-width="1.3"/>
<rect x="334.60" y="210.5" width="17.90" height="78.5" fill="#050505"/>
<line x1="343" y1="204.5" x2="343" y2="210.5" stroke="#111" stroke-width="1.2"/>
<line x1="340.4" y1="204.5" x2="345.6" y2="204.5" stroke="#111" stroke-width="1.3"/>
<rect x="386.60" y="176.75" width="17.80" height="112.25" fill="#050505"/>
<line x1="394.8" y1="164.25" x2="394.8" y2="176.75" stroke="#111" stroke-width="1.2"/>
<line x1="392.2" y1="164.25" x2="397.40000000000003" y2="164.25" stroke="#111" stroke-width="1.3"/>
<rect x="438.60" y="197" width="18.20" height="92" fill="#050505"/>
<line x1="447" y1="185.5" x2="447" y2="197" stroke="#111" stroke-width="1.2"/>
<line x1="444.4" y1="185.5" x2="449.6" y2="185.5" stroke="#111" stroke-width="1.3"/>
<rect x="490.30" y="158.75" width="18.40" height="130.25" fill="#050505"/>
<line x1="499.25" y1="151.75" x2="499.25" y2="158.75" stroke="#111" stroke-width="1.2"/>
<line x1="496.65" y1="151.75" x2="501.85" y2="151.75" stroke="#111" stroke-width="1.3"/>
<rect x="99.3" y="287.2" width="419.2" height="3.6" fill="#050505"/>
<text class="b" x="36.5" y="14.4" font-size="17" text-anchor="start" textLength="43.5" lengthAdjust="spacing">1,000</text>
<text class="b" x="51.5" y="108.3" font-size="17" text-anchor="start">100</text>
<text class="b" x="61" y="201.5" font-size="17" text-anchor="start">10</text>
<text class="b" x="76.3" y="294.8" font-size="17" text-anchor="start">1</text>
<text class="b" transform="translate(15.2,212.2) rotate(-90)" font-size="17" textLength="153.3" lengthAdjust="spacing">FOLD EXPANSION</text>
<rect x="111" y="20.2" width="13.6" height="12" fill="#fff" stroke="#111" stroke-width="1.9"/>
<rect x="119.2" y="22.2" width="2.2" height="2.2" fill="#111"/><rect x="115.2" y="26.7" width="2.2" height="2.2" fill="#111"/>
<rect x="111" y="50" width="13.5" height="12.5" fill="#050505"/>
<text class="b" x="132.3" y="32" font-size="17.6" text-anchor="start" textLength="55.6" lengthAdjust="spacing">TOTAL</text>
<text class="b" x="133" y="62.2" font-size="17.6" text-anchor="start" textLength="44" lengthAdjust="spacing">CD34</text>
<text class="p" x="186.3" y="59.8" font-size="29" text-anchor="middle">+</text>
<g transform="translate(96.15,431.46) rotate(-69)">
<text x="0" y="0" font-size="17.6" class="b">CD34</text>
<text x="55.1" y="-4.57" font-size="29.5" text-anchor="middle" class="p">+</text>
<text x="66.4" y="0" font-size="17.6" class="b">CD38</text>
<text x="122.8" y="-4.27" font-size="29.5" text-anchor="middle" class="p">+</text>
</g>
<g transform="translate(151.65,431.46) rotate(-69)">
<text x="0" y="0" font-size="17.6" class="b">CD34</text>
<text x="55.1" y="-4.57" font-size="29.5" text-anchor="middle" class="p">+</text>
<text x="66.4" y="0" font-size="17.6" class="b">CD38</text>
<text x="117.3" y="-9.82" font-size="25" text-anchor="middle" class="m">-</text>
</g>
<g transform="translate(198.65,431.46) rotate(-69)">
<text x="0" y="0" font-size="17.6" class="b">CD34</text>
<text x="55.1" y="-4.57" font-size="29.5" text-anchor="middle" class="p">+</text>
<text x="66.4" y="0" font-size="17.6" class="b">CD38</text>
<text x="122.8" y="-4.27" font-size="29.5" text-anchor="middle" class="p">+</text>
</g>
<g transform="translate(257.65,431.46) rotate(-69)">
<text x="0" y="0" font-size="17.6" class="b">CD34</text>
<text x="55.1" y="-4.57" font-size="29.5" text-anchor="middle" class="p">+</text>
<text x="66.4" y="0" font-size="17.6" class="b">CD38</text>
<text x="117.3" y="-9.82" font-size="25" text-anchor="middle" class="m">-</text>
</g>
<g transform="translate(300.15,431.46) rotate(-69)">
<text x="0" y="0" font-size="17.6" class="b">CD34</text>
<text x="55.1" y="-4.57" font-size="29.5" text-anchor="middle" class="p">+</text>
<text x="66.4" y="0" font-size="17.6" class="b">CD38</text>
<text x="122.8" y="-4.27" font-size="29.5" text-anchor="middle" class="p">+</text>
</g>
<g transform="translate(350.65,431.46) rotate(-69)">
<text x="0" y="0" font-size="17.6" class="b">CD34</text>
<text x="55.1" y="-4.57" font-size="29.5" text-anchor="middle" class="p">+</text>
<text x="66.4" y="0" font-size="17.6" class="b">CD38</text>
<text x="117.3" y="-9.82" font-size="25" text-anchor="middle" class="m">-</text>
</g>
<g transform="translate(403.65,431.46) rotate(-69)">
<text x="0" y="0" font-size="17.6" class="b">CD34</text>
<text x="55.1" y="-4.57" font-size="29.5" text-anchor="middle" class="p">+</text>
<text x="66.4" y="0" font-size="17.6" class="b">CD38</text>
<text x="122.8" y="-4.27" font-size="29.5" text-anchor="middle" class="p">+</text>
</g>
<g transform="translate(458.65,431.46) rotate(-69)">
<text x="0" y="0" font-size="17.6" class="b">CD34</text>
<text x="55.1" y="-4.57" font-size="29.5" text-anchor="middle" class="p">+</text>
<text x="66.4" y="0" font-size="17.6" class="b">CD38</text>
<text x="117.3" y="-9.82" font-size="25" text-anchor="middle" class="m">-</text>
</g>
<polyline points="76.75,437 76.75,449.5 155.5,449.5 155.5,437" fill="none" stroke="#111" stroke-width="1.2"/>
<polyline points="180.5,437 180.5,449.5 262,449.5 262,437" fill="none" stroke="#111" stroke-width="1.2"/>
<polyline points="287.5,437 287.5,449.5 354.5,449.5 354.5,437" fill="none" stroke="#111" stroke-width="1.2"/>
<polyline points="392.5,437 392.5,449.5 456.25,449.5 456.25,437" fill="none" stroke="#111" stroke-width="1.2"/>
<text class="b" x="83.90" y="475" font-size="17.5" textLength="34.80" lengthAdjust="spacingAndGlyphs">TPO</text>
<text class="p" x="126.75" y="477.20" font-size="25" text-anchor="middle">+</text>
<text class="b" x="134.85" y="475" font-size="17.5" textLength="20.50" lengthAdjust="spacingAndGlyphs">FL</text>
<text class="b" x="183.90" y="475" font-size="17.5" textLength="34.80" lengthAdjust="spacingAndGlyphs">TPO</text>
<text class="p" x="226.75" y="477.20" font-size="25" text-anchor="middle">+</text>
<text class="b" x="234.10" y="475" font-size="17.5" textLength="20.75" lengthAdjust="spacingAndGlyphs">FL</text>
<text class="p" x="201.75" y="499.20" font-size="25" text-anchor="middle">+</text>
<text class="b" x="209.21" y="497" font-size="17.5" textLength="35.56" lengthAdjust="spacingAndGlyphs">SCF</text>
<text class="b" x="283.93" y="475" font-size="17.5" textLength="31.77" lengthAdjust="spacingAndGlyphs">IL-3</text>
<text class="p" x="322.75" y="477.20" font-size="25" text-anchor="middle">+</text>
<text class="b" x="329.21" y="475" font-size="17.5" textLength="35.06" lengthAdjust="spacingAndGlyphs">SCF</text>
<text class="b" x="387.93" y="475" font-size="17.5" textLength="31.52" lengthAdjust="spacingAndGlyphs">IL-3</text>
<text class="p" x="426.5" y="477.20" font-size="25" text-anchor="middle">+</text>
<text class="b" x="432.96" y="475" font-size="17.5" textLength="35.56" lengthAdjust="spacingAndGlyphs">SCF</text>
<text class="p" x="414" y="499.20" font-size="25" text-anchor="middle">+</text>
<text class="b" x="420.43" y="497" font-size="17.5" textLength="31.02" lengthAdjust="spacingAndGlyphs">IL-6</text>
</svg></body></html>
